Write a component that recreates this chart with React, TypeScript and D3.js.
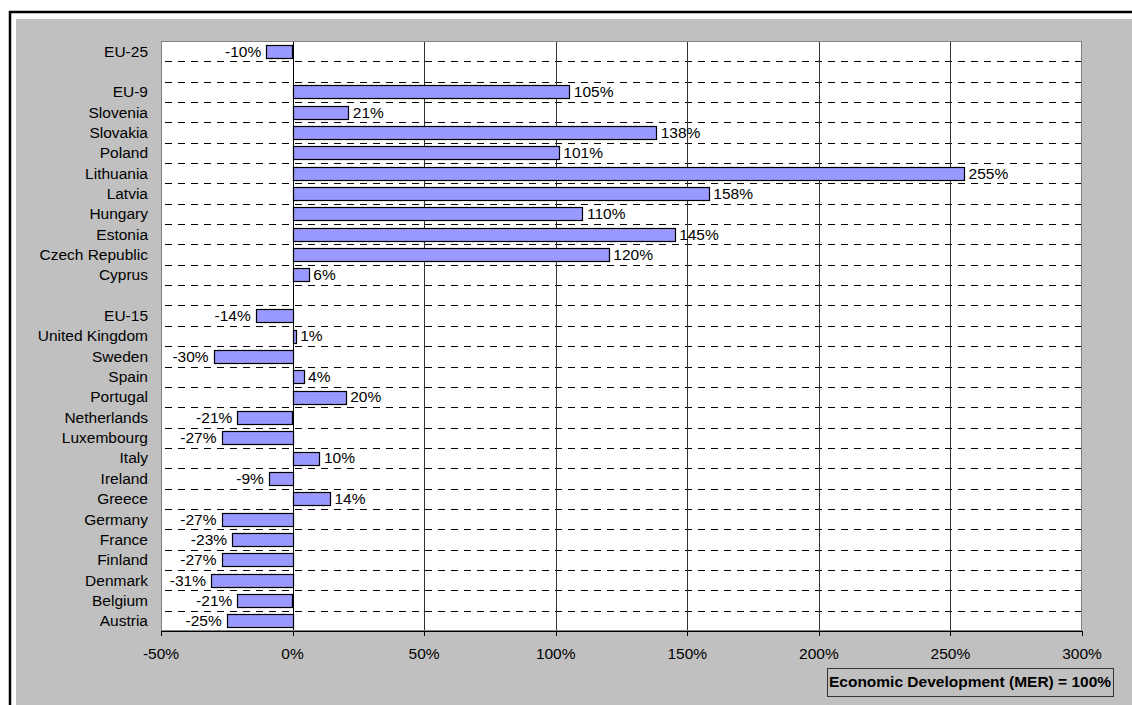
import React from "react";
import * as d3 from "d3";

// Row keys (blank rows separate the groups) and their visible labels
const rowKeys = [
  "EU-25", "gap1", "EU-9", "Slovenia", "Slovakia", "Poland", "Lithuania", "Latvia",
  "Hungary", "Estonia", "Czech Republic", "Cyprus", "gap2", "EU-15", "United Kingdom",
  "Sweden", "Spain", "Portugal", "Netherlands", "Luxembourg", "Italy", "Ireland",
  "Greece", "Germany", "France", "Finland", "Denmark", "Belgium", "Austria",
];
const rowLabels = rowKeys.map((k) => (k.startsWith("gap") ? "" : k));

// Percentage values for each country / group
const countries = [
  "EU-25", "EU-9", "Slovenia", "Slovakia", "Poland", "Lithuania", "Latvia", "Hungary",
  "Estonia", "Czech Republic", "Cyprus", "EU-15", "United Kingdom", "Sweden", "Spain",
  "Portugal", "Netherlands", "Luxembourg", "Italy", "Ireland", "Greece", "Germany",
  "France", "Finland", "Denmark", "Belgium", "Austria",
];
const values = [
  -10, 105, 21, 138, 101, 255, 158, 110, 145, 120, 6, -14, 1, -30, 4, 20, -21, -27, 10,
  -9, 14, -27, -23, -27, -31, -21, -25,
];

const xTicks = [-50, 0, 50, 100, 150, 200, 250, 300];
const legendText = "Economic Development (MER) = 100%";

const W = 1132;
const H = 705;
const plot = { left: 161, right: 1082, top: 41, bottom: 631 };
const font = "'Liberation Sans', Arial, sans-serif";
const fs = 15.5;

export default function App() {
  const x = d3.scaleLinear().domain([-50, 300]).range([plot.left, plot.right]);
  const y = d3
    .scaleBand<string>()
    .domain(rowKeys)
    .range([plot.top, plot.bottom]);
  const rowH = y.step();
  const barH = 13;
  const bars = countries.map((c, i) => ({ c, v: values[i] }));

  return (
    <svg
      width={W}
      height={H}
      style={{ position: "absolute", left: 0, top: 0, background: "#fff" }}
      fontFamily={font}
    >
      {/* outer frame and grey chart area */}
      <rect x={10} y={12} width={W + 20} height={H + 20} fill="#fff" stroke="#000" strokeWidth={2.5} />
      <rect x={16} y={19} width={W} height={H} fill="#c0c0c0" />

      {/* plot area */}
      <rect x={plot.left} y={plot.top} width={plot.right - plot.left} height={plot.bottom - plot.top} fill="#fff" />

      {/* horizontal dashed gridlines at row boundaries */}
      {rowKeys.slice(1).map((k) => {
        const yy = Math.round(y(k)!) + 0.5;
        return (
          <line key={"h" + k} x1={plot.left + 4} x2={plot.right} y1={yy} y2={yy} stroke="#000" strokeWidth={1} strokeDasharray="7,6" />
        );
      })}

      {/* vertical gridlines */}
      {xTicks.slice(1, -1).map((t) => {
        const xx = Math.round(x(t)) + 0.5;
        return <line key={"v" + t} x1={xx} x2={xx} y1={plot.top} y2={plot.bottom} stroke={t === 0 ? "#000" : "#333"} strokeWidth={1} />;
      })}

      <rect
        x={plot.left + 0.5}
        y={plot.top + 0.5}
        width={plot.right - plot.left - 1}
        height={plot.bottom - plot.top - 1}
        fill="none"
        stroke="#808080"
        strokeWidth={1}
      />

      {/* bars */}
      {bars.map(({ c, v }) => {
        const x0 = x(Math.min(0, v));
        const x1 = x(Math.max(0, v));
        const yy = y(c)! + (rowH - barH) / 2;
        return (
          <rect
            key={"b" + c}
            x={Math.round(x0) + 0.5}
            y={Math.round(yy) + 0.5}
            width={Math.max(1, Math.round(x1 - x0))}
            height={barH}
            fill="#9999ff"
            stroke="#000"
            strokeWidth={1.2}
          />
        );
      })}

      {/* value labels */}
      {bars.map(({ c, v }) => {
        const neg = v < 0;
        const xx = x(v) + (neg ? -5 : 5);
        return (
          <text
            key={"l" + c}
            x={xx}
            y={y(c)! + rowH / 2}
            dy="0.35em"
            fontSize={fs}
            textAnchor={neg ? "end" : "start"}
            fill="#000"
          >
            {v}%
          </text>
        );
      })}

      {/* category labels */}
      {rowKeys.map((k, i) => (
        <text key={"c" + k} x={148} y={y(k)! + rowH / 2} dy="0.35em" fontSize={fs} textAnchor="end" fill="#000">
          {rowLabels[i]}
        </text>
      ))}

      {/* x axis ticks */}
      <line x1={plot.left} x2={plot.right} y1={plot.bottom + 0.5} y2={plot.bottom + 0.5} stroke="#000" strokeWidth={1} />
      {xTicks.map((t) => {
        const xx = Math.round(x(t)) + 0.5;
        return (
          <g key={"t" + t}>
            <line x1={xx} x2={xx} y1={plot.bottom} y2={plot.bottom + 5} stroke="#000" strokeWidth={1} />
            <text x={x(t)} y={654} dy="0.35em" fontSize={fs} textAnchor="middle" fill="#000">
              {t}%
            </text>
          </g>
        );
      })}

      {/* legend box */}
      <rect x={827.5} y={668.5} width={286} height={28} fill="#c0c0c0" stroke="#333" strokeWidth={1} />
      <text x={970} y={682} dy="0.35em" fontSize={fs} fontWeight="bold" textAnchor="middle" fill="#000">
        {legendText}
      </text>
    </svg>
  );
}
